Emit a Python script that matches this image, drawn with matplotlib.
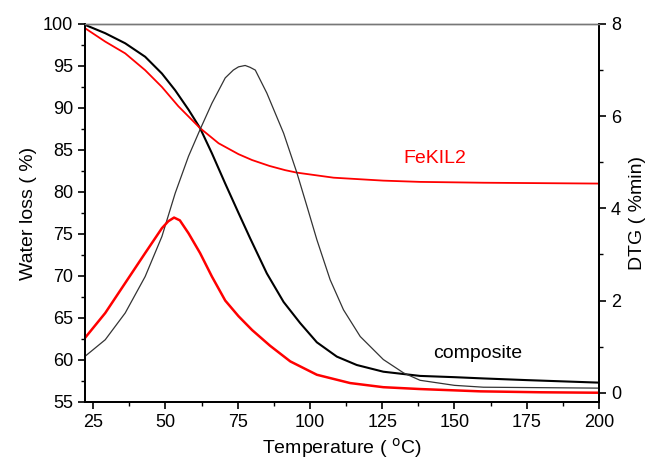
import matplotlib
matplotlib.use("Agg")
import matplotlib.pyplot as plt
from matplotlib.ticker import MultipleLocator

plt.rcParams['font.family'] = ['Liberation Sans', 'DejaVu Sans']

# TG, composite (left axis)
tg_comp_t = [22.2, 29.2, 36.1, 43.0, 48.8, 53.4, 58.0, 62.0, 66.1, 70.7, 75.3,
             79.3, 85.1, 90.9, 96.6, 102.4, 109.3, 116.2, 125.4, 138.1, 150,
             160, 175, 200]
tg_comp = [99.9, 98.9, 97.7, 96.1, 94.1, 92.1, 89.8, 87.6, 84.6, 81.0, 77.5,
           74.5, 70.3, 66.9, 64.4, 62.1, 60.4, 59.4, 58.6, 58.1, 57.95, 57.8,
           57.6, 57.3]

# TG, FeKIL2 (left axis)
tg_fe_t = [22.2, 29.2, 36.1, 43.0, 48.8, 54.5, 62.0, 68.4, 75.3, 80.0, 86.0,
           91.4, 95.5, 108.2, 125.4, 138.1, 160, 180, 200]
tg_fe = [99.5, 97.9, 96.5, 94.5, 92.5, 90.2, 87.6, 85.8, 84.5, 83.8, 83.1,
         82.6, 82.3, 81.7, 81.35, 81.2, 81.1, 81.05, 81.0]

# DTG, composite (right axis)
dtg_comp_t = [22.2, 29.2, 36.1, 43.0, 48.8, 53.4, 58.0, 62.0, 66.1, 70.7, 73.5,
              75.3, 77.6, 79.3, 81.1, 85.1, 90.9, 95.5, 99.0, 102.4, 107.0,
              111.6, 117.4, 125.4, 132.4, 138.1, 150, 160, 180, 200]
dtg_comp = [0.79, 1.15, 1.73, 2.52, 3.39, 4.33, 5.13, 5.71, 6.28, 6.83, 7.0,
            7.07, 7.1, 7.06, 7.0, 6.5, 5.63, 4.77, 4.04, 3.32, 2.45, 1.8, 1.22,
            0.72, 0.43, 0.27, 0.16, 0.12, 0.11, 0.1]

# DTG, FeKIL2 (right axis)
dtg_fe_t = [22.2, 29.2, 36.1, 43.0, 48.8, 51.0, 53.0, 55.0, 58.0, 62.0, 66.1,
            70.7, 75.3, 80.0, 86.2, 93.2, 102.4, 113.9, 125.4, 138.1, 159, 180,
            200]
dtg_fe = [1.19, 1.73, 2.38, 3.03, 3.57, 3.72, 3.8, 3.74, 3.46, 3.03, 2.52,
          2.0, 1.66, 1.36, 1.02, 0.68, 0.39, 0.21, 0.12, 0.08, 0.03, 0.01, 0.0]

fig = plt.figure(figsize=(6.55, 4.74), dpi=100)
ax = fig.add_axes([0.1298, 0.152, 0.7847, 0.7974])
ax2 = ax.twinx()

ax.plot(tg_comp_t, tg_comp, color='black', lw=1.5)
ax.plot(tg_fe_t, tg_fe, color='red', lw=1.3)
ax2.plot(dtg_comp_t, dtg_comp, color='#333333', lw=0.9)
ax2.plot(dtg_fe_t, dtg_fe, color='red', lw=1.8)

ax.set_xlim(22.2, 200)
ax.set_ylim(55, 100)
ax2.set_ylim(-0.2, 8)

ax.xaxis.set_major_locator(MultipleLocator(25))
ax.xaxis.set_minor_locator(MultipleLocator(12.5))
ax.yaxis.set_major_locator(MultipleLocator(5))
ax.yaxis.set_minor_locator(MultipleLocator(2.5))
ax2.yaxis.set_major_locator(MultipleLocator(2))
ax2.yaxis.set_minor_locator(MultipleLocator(1))

for a in (ax, ax2):
    a.tick_params(which='major', direction='out', length=5, width=1.2, labelsize=13)
    a.tick_params(which='minor', direction='out', length=3, width=1.0)
    for s in a.spines.values():
        s.set_linewidth(1.3)
ax.spines['top'].set_color('#777777')
ax.spines['top'].set_linewidth(1.0)
ax2.spines['top'].set_color('#777777')
ax2.spines['top'].set_linewidth(1.0)

ax.set_xlabel('Temperature ( $^{\\mathrm{o}}$C)', fontsize=14)
ax.set_ylabel('Water loss ( %)', fontsize=14, labelpad=4)
ax2.set_ylabel('DTG ( %min)', fontsize=14, labelpad=6)

ax.text(132.5, 84.0, 'FeKIL2', color='red', fontsize=14, va='center')
ax.text(142.6, 60.8, 'composite', color='black', fontsize=14, va='center')

fig.savefig('out.png', dpi=100)
